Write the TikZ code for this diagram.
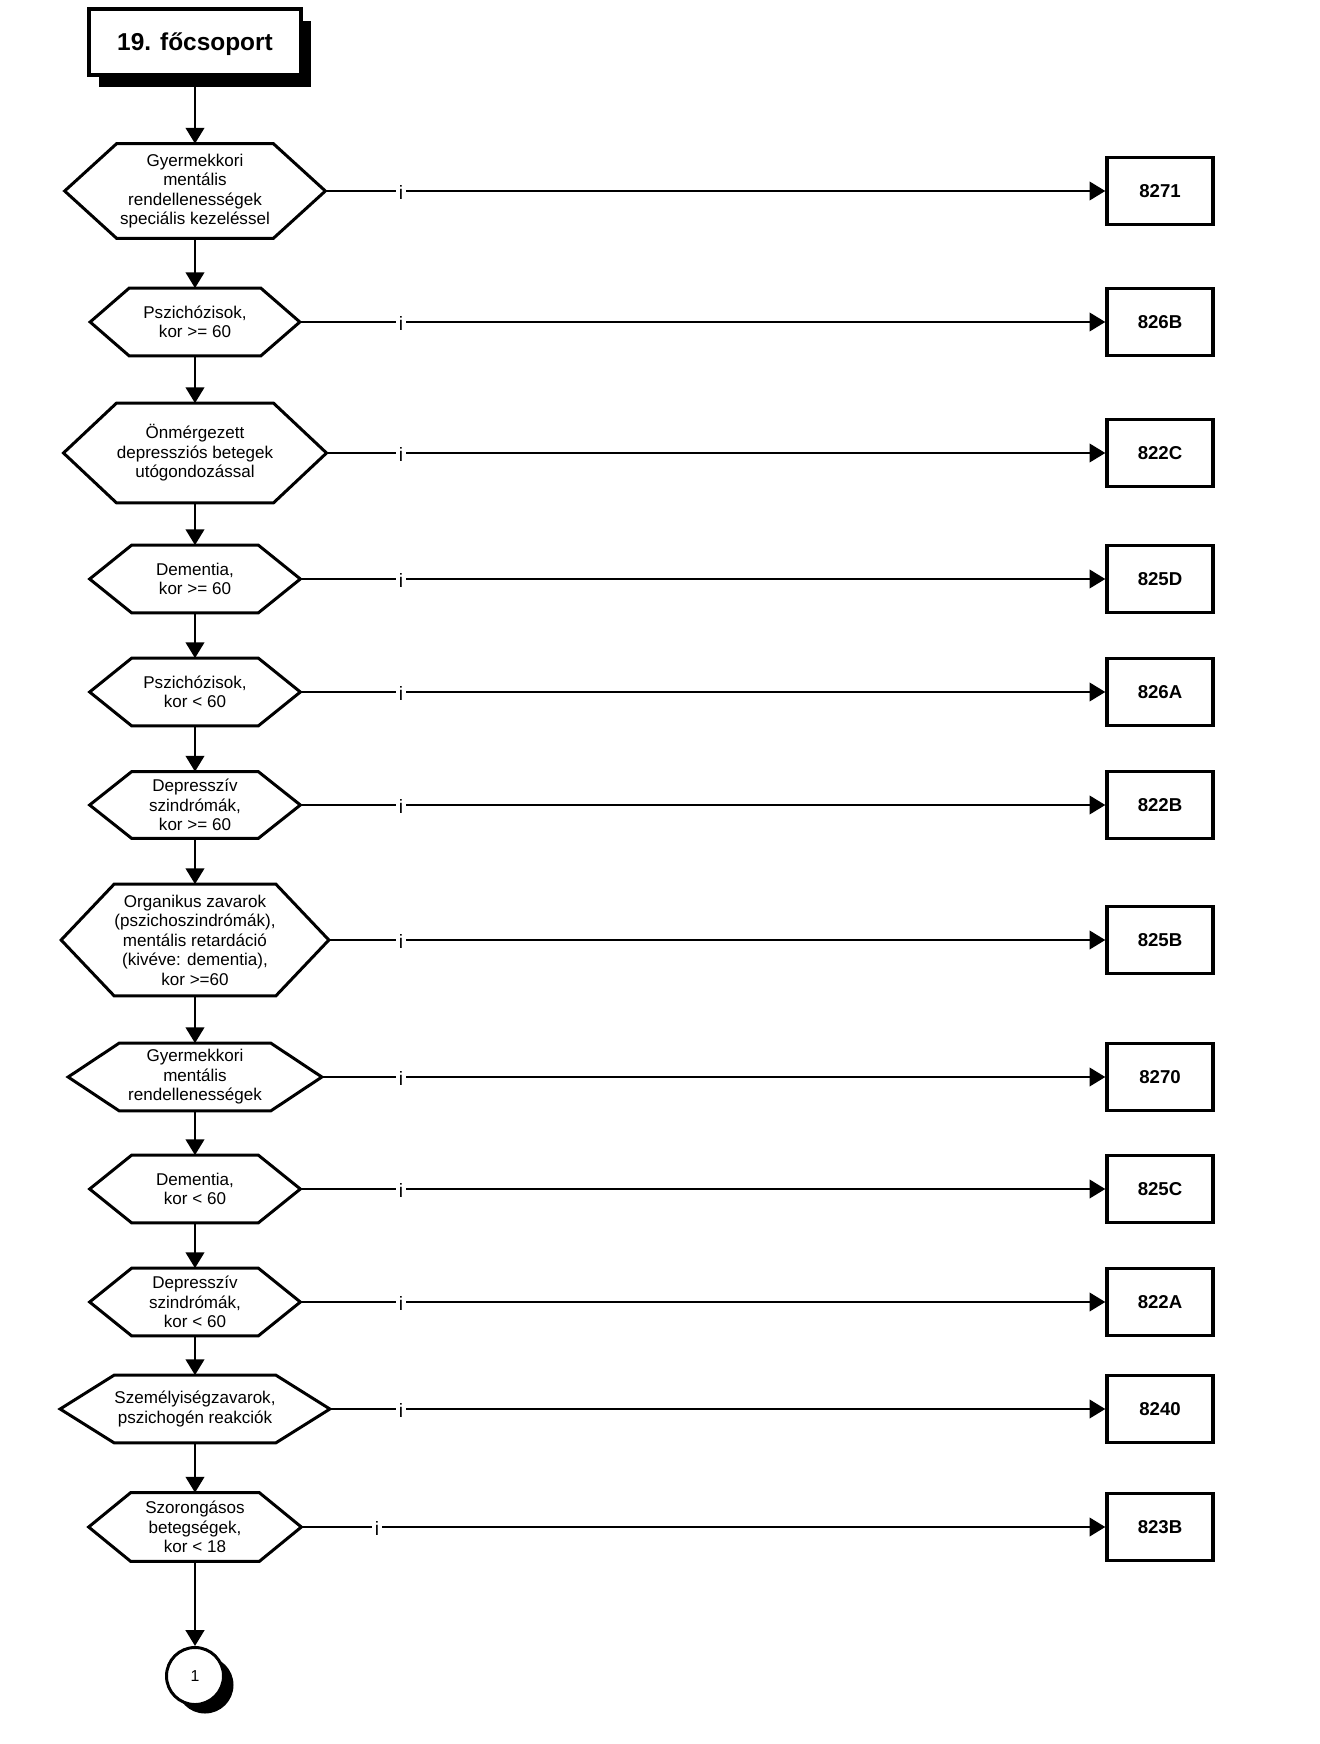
\documentclass[tikz,border=0pt]{standalone}
\usepackage{fontspec}
\setmainfont{Liberation Sans}
\usetikzlibrary{arrows.meta,calc,positioning,shadows}

\tikzset{
  hexa/.style={inner sep=0pt, align=center, font=\fontsize{9.7}{11.1}\selectfont},
  outline/.style={line width=1.7pt, line join=miter},
  codebox/.style={draw, line width=1.9pt, fill=white, minimum width=2.12cm, minimum height=1.34cm,
    inner sep=0pt, font=\fontsize{10.6}{12}\selectfont\bfseries},
  titlebox/.style={draw, line width=1.9pt, fill=white, minimum width=4.24cm, minimum height=1.32cm,
    inner sep=0pt, text depth=0pt, font=\fontsize{13.9}{16}\selectfont\bfseries,
    drop shadow={shadow xshift=0.2cm, shadow yshift=-0.24cm, fill=black, opacity=1}},
  connector/.style={draw, circle, line width=1.7pt, fill=white, minimum size=1.14cm, inner sep=0pt,
    font=\fontsize{9}{10}\selectfont,
    drop shadow={shadow xshift=0.2cm, shadow yshift=-0.18cm, fill=black, opacity=1}},
  flow/.style={line width=1.5pt, -{Triangle[length=9pt,width=10.5pt]}},
  ilabel/.style={fill=white, inner xsep=1.6pt, inner ysep=0pt, font=\fontsize{11}{12}\selectfont},
}

\begin{document}
\begin{tikzpicture}
\useasboundingbox (0,0) rectangle (26.38,-34.88);

\node[titlebox] (title) at (3.9,-0.84) {19. főcsoport};

% hatszogek
\node[hexa, minimum width=3.12cm, minimum height=1.88cm] (h1) at (3.9,-3.82) {Gyermekkori\\mentális\\rendellenességek\\speciális kezeléssel};
\node[hexa, minimum width=2.62cm, minimum height=1.34cm] (h2) at (3.9,-6.44) {Pszichózisok,\\kor >= 60};
\node[hexa, minimum width=3.12cm, minimum height=1.98cm] (h3) at (3.9,-9.06) {Önmérgezett\\depressziós betegek\\utógondozással};
\node[hexa, minimum width=2.52cm, minimum height=1.34cm] (h4) at (3.9,-11.58) {Dementia,\\kor >= 60};
\node[hexa, minimum width=2.52cm, minimum height=1.34cm] (h5) at (3.9,-13.84) {Pszichózisok,\\kor < 60};
\node[hexa, minimum width=2.52cm, minimum height=1.32cm] (h6) at (3.9,-16.10) {Depresszív\\szindrómák,\\kor >= 60};
\node[hexa, minimum width=3.16cm, minimum height=2.22cm] (h7) at (3.9,-18.80) {Organikus zavarok\\(pszichoszindrómák),\\mentális retardáció\\(kivéve: dementia),\\kor >=60};
\node[hexa, minimum width=3.02cm, minimum height=1.34cm] (h8) at (3.9,-21.54) {Gyermekkori\\mentális\\rendellenességek};
\node[hexa, minimum width=2.52cm, minimum height=1.34cm] (h9) at (3.9,-23.78) {Dementia,\\kor < 60};
\node[hexa, minimum width=2.52cm, minimum height=1.34cm] (h10) at (3.9,-26.04) {Depresszív\\szindrómák,\\kor < 60};
\node[hexa, minimum width=3.2cm, minimum height=1.34cm] (h11) at (3.9,-28.18) {Személyiségzavarok,\\pszichogén reakciók};
\node[hexa, minimum width=2.56cm, minimum height=1.36cm] (h12) at (3.9,-30.54) {Szorongásos\\betegségek,\\kor < 18};

\node[connector] (next) at (3.9,-33.52) {1};

% kodok
\coordinate (col) at (23.2,0);
\node[codebox] (c1) at (col |- h1) {8271};
\node[codebox] (c2) at (col |- h2) {826B};
\node[codebox] (c3) at (col |- h3) {822C};
\node[codebox] (c4) at (col |- h4) {825D};
\node[codebox] (c5) at (col |- h5) {826A};
\node[codebox] (c6) at (col |- h6) {822B};
\node[codebox] (c7) at (col |- h7) {825B};
\node[codebox] (c8) at (col |- h8) {8270};
\node[codebox] (c9) at (col |- h9) {825C};
\node[codebox] (c10) at (col |- h10) {822A};
\node[codebox] (c11) at (col |- h11) {8240};
\node[codebox] (c12) at (col |- h12) {823B};

\foreach \n/\d/\l in {1/1.04/4.12, 2/0.78/4.12, 3/1.06/4.12, 4/0.84/4.12, 5/0.84/4.12, 6/0.84/4.12,
    7/1.06/4.12, 8/1.02/4.12, 9/0.84/4.12, 10/0.84/4.12, 11/1.08/4.12, 12/0.84/3.64} {
  \draw[outline] (h\n.north west) -- (h\n.north east) -- ($(h\n.east)+(\d,0)$) -- (h\n.south east)
    -- (h\n.south west) -- ($(h\n.west)-(\d,0)$) -- cycle;
  \draw[flow] ($(h\n.east)+(\d,0)$) -- (c\n.west);
  \node[ilabel] at ($(h\n)+(\l,-0.03)$) {i};
}

\foreach \a/\b in {title/h1, h1/h2, h2/h3, h3/h4, h4/h5, h5/h6, h6/h7, h7/h8, h8/h9, h9/h10, h10/h11, h11/h12, h12/next}
  \draw[flow] (\a.south) -- (\b.north);
\end{tikzpicture}
\end{document}
